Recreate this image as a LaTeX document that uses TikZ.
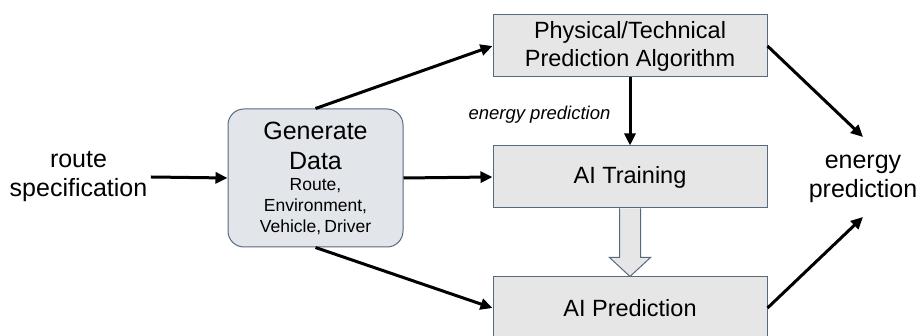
\documentclass[tikz,border=0pt]{standalone}
\usepackage{fontspec}
\setmainfont{Liberation Sans}
\usetikzlibrary{arrows.meta,positioning,calc}

\definecolor{boxline}{RGB}{88,104,126}
\definecolor{boxfill}{RGB}{230,230,230}
\definecolor{genfill}{RGB}{226,229,233}

\begin{document}
\begin{tikzpicture}[
    x=1pt, y=1pt,
    >={Triangle[length=12pt,width=11pt]},
    box/.style={draw=boxline, fill=boxfill, line width=1pt, align=center,
                minimum width=274pt, minimum height=62pt,
                font=\fontsize{23.5}{28}\selectfont},
    genbox/.style={draw=boxline, fill=genfill, line width=1pt, rounded corners=16pt,
                   align=center, text width=170pt, minimum width=175pt,
                   minimum height=138pt, inner sep=0pt},
    plain/.style={align=center, font=\fontsize{25}{29}\selectfont},
    flow/.style={->, line width=3pt},
    hollow/.style={draw=boxline, fill=boxfill, line width=1pt},
  ]
  \useasboundingbox (0,0) rectangle (921,336);

  % boxes on the right
  \node[box] (phys) at (630,290) {Physical/Technical\\Prediction Algorithm};
  \node[box] (train) at (630,159) {AI Training};
  \node[box] (pred) at (630,28) {AI Prediction};

  % data generation
  \node[genbox] (gen) at (315.5,158)
       {{\fontsize{25}{30}\selectfont Generate\par Data\par}
        \fontsize{17.5}{21}\selectfont Route,\par Environment,\par Vehicle, Driver\par};

  \node[plain] (route) at (78.5,159) {route\\specification};
  \node[plain] (energy) at (863,157) {energy\\prediction};
  \node[font=\fontsize{18.5}{20}\selectfont\itshape, anchor=east]
       (elbl) at ([xshift=-16pt,yshift=-37pt]phys.south) {energy prediction};

  \coordinate (eup) at ([yshift=42pt]energy.center);
  \coordinate (edown) at ([yshift=-38pt]energy.center);

  \draw[flow] (route.east) -- (gen.west);
  \draw[flow] (gen.north) -- (phys.west);
  \draw[flow] (gen.east) -- (train.west);
  \draw[flow] (gen.south) -- (pred.west);
  \draw[flow] (phys.south) -- (train.north);
  \draw[flow] (phys.east) -- (eup);
  \draw[flow] (pred.east) -- (edown);

  % hollow arrow from training to prediction
  \draw[hollow] ([xshift=-10.5pt]train.south) -- ++(0,-49) -- ++(-10,0)
       -- (pred.north) -- ([xshift=20.5pt,yshift=-49pt]train.south)
       -- ++(-10,0) -- ([xshift=10.5pt]train.south);

\end{tikzpicture}
\end{document}
